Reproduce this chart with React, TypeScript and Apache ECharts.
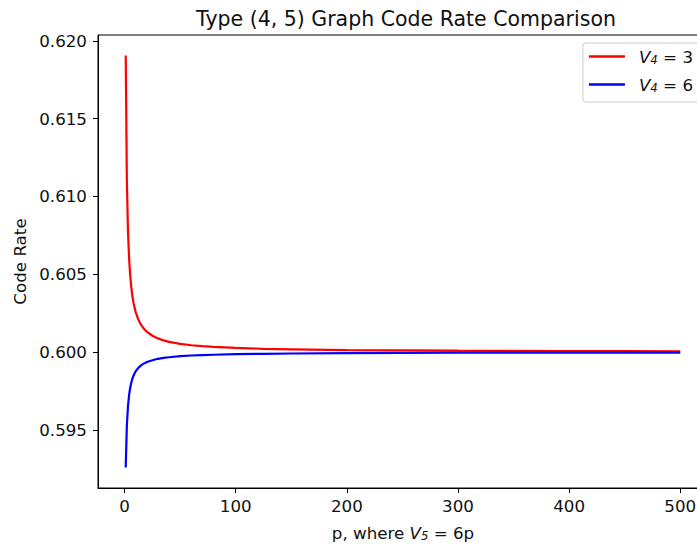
import React, { useEffect, useRef } from "react";
import * as echarts from "echarts";

const pValues = [1, 2, 3, 4, 5, 6, 7, 8, 9, 10, 12, 14, 16, 18, 20, 25, 30, 35, 40, 50, 60, 70, 80, 100, 125, 150, 200, 250, 300, 350, 400, 450, 500];
const rateV4Eq3 = [0.61905, 0.61111, 0.60784, 0.60606, 0.60494, 0.60417, 0.6036, 0.60317, 0.60284, 0.60256, 0.60215, 0.60185, 0.60163, 0.60145, 0.60131, 0.60105, 0.60088, 0.60075, 0.60066, 0.60053, 0.60044, 0.60038, 0.60033, 0.60027, 0.60021, 0.60018, 0.60013, 0.60011, 0.60009, 0.60008, 0.60007, 0.60006, 0.60005];
const rateV4Eq6 = [0.59259, 0.59524, 0.59649, 0.59722, 0.5977, 0.59804, 0.59829, 0.59848, 0.59864, 0.59877, 0.59896, 0.5991, 0.59921, 0.59929, 0.59936, 0.59948, 0.59957, 0.59963, 0.59967, 0.59974, 0.59978, 0.59981, 0.59983, 0.59987, 0.59989, 0.59991, 0.59993, 0.59995, 0.59996, 0.59996, 0.59997, 0.59997, 0.59997];
const xTicks = [0, 100, 200, 300, 400, 500];
const yTicks = [0.595, 0.6, 0.605, 0.61, 0.615, 0.62];
const seriesNames = ["V4 = 3", "V4 = 6"];
const seriesColors = ["#ff0000", "#0000ff"];

const FONT = "DejaVu Sans";
const TXT = "#111";
const FS = 16.7;

export default function App() {
  const ref = useRef<HTMLDivElement>(null);
  useEffect(() => {
    if (!ref.current) return;
    const chart = echarts.init(ref.current, undefined, { renderer: "svg" });
    const rich = {
      n: { fontFamily: FONT, fontSize: FS, color: TXT, lineHeight: 19 },
      i: { fontFamily: FONT, fontSize: FS, fontStyle: "italic", color: TXT, lineHeight: 19 },
      s: { fontFamily: FONT, fontSize: 11.7, fontStyle: "italic", color: TXT, lineHeight: 12, verticalAlign: "bottom" },
    };
    chart.setOption({
      animation: false,
      backgroundColor: "#ffffff",
      title: {
        text: "Type (4, 5) Graph Code Rate Comparison",
        left: 401,
        top: 3,
        textAlign: "center",
        textStyle: { fontFamily: FONT, fontSize: 20.5, fontWeight: "normal", color: TXT },
      },
      grid: {
        left: 98,
        top: 35,
        right: 12,
        bottom: 59,
        show: true,
        borderColor: "#000",
        borderWidth: 1,
        backgroundColor: "transparent",
      },
      legend: {
        orient: "vertical",
        right: 19,
        top: 43,
        data: seriesNames.map((n) => ({ name: n, icon: "rect" })),
        itemWidth: 36,
        itemHeight: 2.4,
        itemGap: 10,
        padding: [5, 8, 8, 6],
        backgroundColor: "#fff",
        borderColor: "#cccccc",
        borderWidth: 1,
        borderRadius: 3,
        textStyle: { fontFamily: FONT, fontSize: FS, color: TXT, padding: [0, 0, 0, 9], rich },
        formatter: (name: string) => {
          const v = name.split(" = ")[1];
          return `{i|V}{s|4}{n| = ${v}}`;
        },
      },
      xAxis: {
        type: "value",
        min: -23.95,
        max: 524.95,
        name: "{n|p, where }{i|V}{s|5}{n| = 6p}",
        nameLocation: "middle",
        nameGap: 35,
        nameTextStyle: { rich },
        splitLine: { show: false },
        axisLine: { show: true, onZero: false, lineStyle: { color: "#000", width: 1 } },
        axisTick: { show: true, length: 5, lineStyle: { color: "#000", width: 1 }, customValues: xTicks },
        axisLabel: {
          fontFamily: FONT,
          fontSize: FS,
          color: TXT,
          margin: 9,
          customValues: xTicks,
          formatter: (v: number) => String(Math.round(v)),
        },
      },
      yAxis: {
        type: "value",
        min: 0.59127,
        max: 0.62037,
        name: "Code Rate",
        nameLocation: "middle",
        nameGap: 70,
        nameTextStyle: { fontFamily: FONT, fontSize: FS, color: TXT },
        splitLine: { show: false },
        axisLine: { show: true, onZero: false, lineStyle: { color: "#000", width: 1 } },
        axisTick: { show: true, length: 5, lineStyle: { color: "#000", width: 1 }, customValues: yTicks },
        axisLabel: {
          fontFamily: FONT,
          fontSize: FS,
          color: TXT,
          margin: 11,
          customValues: yTicks,
          formatter: (v: number) => v.toFixed(3),
        },
      },
      series: [
        {
          name: seriesNames[0],
          type: "line",
          symbol: "none",
          smooth: false,
          data: pValues.map((p, i) => [p, rateV4Eq3[i]]),
          lineStyle: { color: seriesColors[0], width: 2.2 },
          itemStyle: { color: seriesColors[0] },
        },
        {
          name: seriesNames[1],
          type: "line",
          symbol: "none",
          smooth: false,
          data: pValues.map((p, i) => [p, rateV4Eq6[i]]),
          lineStyle: { color: seriesColors[1], width: 2.2 },
          itemStyle: { color: seriesColors[1] },
        },
      ],
    });
    return () => chart.dispose();
  }, []);
  return (
    <div
      ref={ref}
      style={{ position: "fixed", left: 0, top: 0, width: 720, height: 547 }}
    />
  );
}
